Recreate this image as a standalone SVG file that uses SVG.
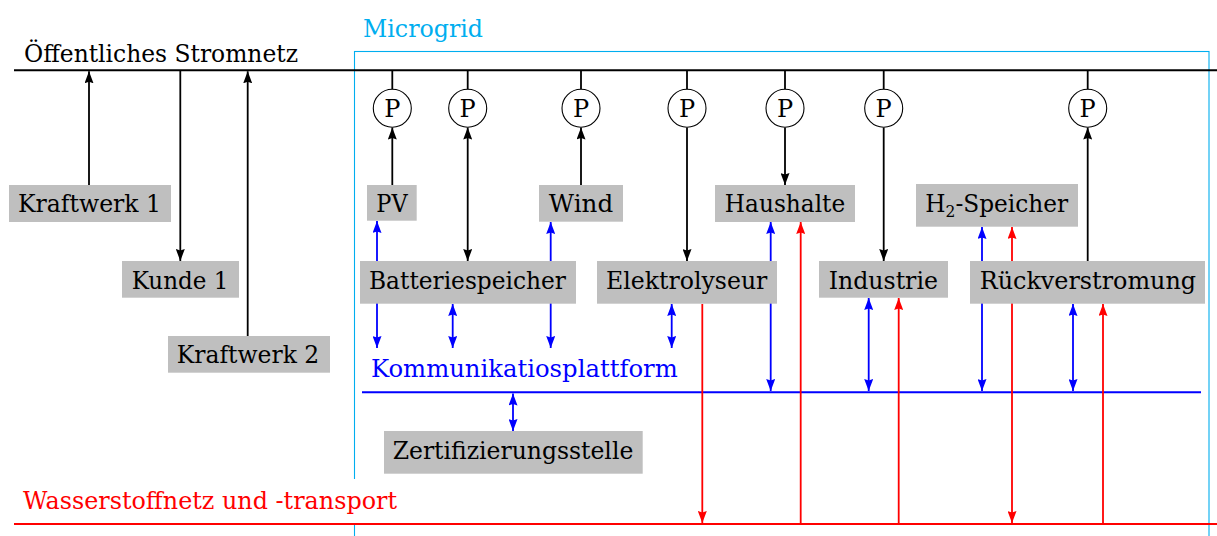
<svg xmlns="http://www.w3.org/2000/svg" width="1217" height="536" viewBox="0 0 1217 536">
<style>
text{font-family:"DejaVu Serif","Liberation Serif",serif;font-size:24px;fill:#000}
.box{fill:#bfbfbf;stroke:none}
.lbl{text-anchor:middle}
.k{stroke:#000;stroke-width:1.8;fill:none}
.b{stroke:#0000ff;stroke-width:1.8;fill:none}
.r{stroke:#ff0000;stroke-width:1.8;fill:none}
.pc{fill:#fff;stroke:#000;stroke-width:1.1}
</style>
<defs>
<marker id="ak" viewBox="0 0 12 9" refX="12" refY="4.5" markerWidth="12" markerHeight="9" markerUnits="userSpaceOnUse" orient="auto-start-reverse"><path d="M0,0 L12,4.5 L0,9 L1.5,4.5 z" fill="#000"/></marker>
<marker id="ab" viewBox="0 0 12 9" refX="12" refY="4.5" markerWidth="12" markerHeight="9" markerUnits="userSpaceOnUse" orient="auto-start-reverse"><path d="M0,0 L12,4.5 L0,9 L1.5,4.5 z" fill="#0000ff"/></marker>
<marker id="ar" viewBox="0 0 12 9" refX="12" refY="4.5" markerWidth="12" markerHeight="9" markerUnits="userSpaceOnUse" orient="auto-start-reverse"><path d="M0,0 L12,4.5 L0,9 L1.5,4.5 z" fill="#ff0000"/></marker>
</defs>
<rect width="1217" height="536" fill="#fff"/>

<g id="microgrid">
<rect x="354.5" y="51.5" width="854.5" height="500" fill="none" stroke="#00aeef" stroke-width="1.1"/>
<text x="363" y="36.7" textLength="120" lengthAdjust="spacingAndGlyphs" style="fill:#00aeef">Microgrid</text>
</g>

<g id="stromnetz">
<line x1="14" y1="70.3" x2="1217" y2="70.3" stroke="#000" stroke-width="2"/>
<text x="24" y="62" textLength="274" lengthAdjust="spacingAndGlyphs">Öffentliches Stromnetz</text>
</g>

<g id="wasserstoffnetz">
<rect x="17" y="479" width="386" height="44" fill="#fff"/>
<line x1="14" y1="524" x2="1217" y2="524" stroke="#ff0000" stroke-width="2"/>
<text x="23" y="509.3" textLength="374" lengthAdjust="spacingAndGlyphs" style="fill:#ff0000">Wasserstoffnetz und -transport</text>
</g>

<g id="kommunikationsplattform">
<line x1="362" y1="392.3" x2="1201" y2="392.3" stroke="#0000ff" stroke-width="2"/>
<text x="371" y="376.7" textLength="306.7" lengthAdjust="spacingAndGlyphs" style="fill:#0000ff">Kommunikatiosplattform</text>
</g>

<g id="connectors">
<g class="k">
<path d="M392.3,71 V89.3"/>
<path d="M467.7,71 V89.3"/>
<path d="M581,71 V89.3"/>
<path d="M687,71 V89.3"/>
<path d="M785,71 V89.3"/>
<path d="M883.7,71 V89.3"/>
<path d="M1087.7,71 V89.3"/>
<path d="M89,185 V71.3" marker-end="url(#ak)"/>
<path d="M180.3,71 V261" marker-end="url(#ak)"/>
<path d="M247.7,336 V71.3" marker-end="url(#ak)"/>
<path d="M392.3,185 V127.5" marker-end="url(#ak)"/>
<path d="M467.7,127.5 V261" marker-start="url(#ak)" marker-end="url(#ak)"/>
<path d="M581,185 V127.5" marker-end="url(#ak)"/>
<path d="M687,127.5 V261" marker-end="url(#ak)"/>
<path d="M785,127.5 V185" marker-end="url(#ak)"/>
<path d="M883.7,127.5 V261" marker-end="url(#ak)"/>
<path d="M1087.7,261 V127.5" marker-end="url(#ak)"/>
</g>
<g class="b">
<path d="M377,221 V348" marker-start="url(#ab)" marker-end="url(#ab)"/>
<path d="M452.7,304 V348" marker-start="url(#ab)" marker-end="url(#ab)"/>
<path d="M550.7,222 V348" marker-start="url(#ab)" marker-end="url(#ab)"/>
<path d="M671.7,304 V348" marker-start="url(#ab)" marker-end="url(#ab)"/>
<path d="M770.7,222 V391" marker-start="url(#ab)" marker-end="url(#ab)"/>
<path d="M868.7,298 V391" marker-start="url(#ab)" marker-end="url(#ab)"/>
<path d="M982,227 V391" marker-start="url(#ab)" marker-end="url(#ab)"/>
<path d="M1073,304 V391" marker-start="url(#ab)" marker-end="url(#ab)"/>
<path d="M513,393.5 V431" marker-start="url(#ab)" marker-end="url(#ab)"/>
</g>
<g class="r">
<path d="M702.3,304 V523" marker-end="url(#ar)"/>
<path d="M800.7,524 V222" marker-end="url(#ar)"/>
<path d="M898.7,524 V298" marker-end="url(#ar)"/>
<path d="M1012,227 V523" marker-start="url(#ar)" marker-end="url(#ar)"/>
<path d="M1103,524 V304" marker-end="url(#ar)"/>
</g>
</g>

<g id="p-pv"><circle class="pc" cx="392.3" cy="108.3" r="19"/><text class="lbl" x="392.3" y="117">P</text></g>
<g id="p-batterie"><circle class="pc" cx="467.7" cy="108.3" r="19"/><text class="lbl" x="467.7" y="117">P</text></g>
<g id="p-wind"><circle class="pc" cx="581" cy="108.3" r="19"/><text class="lbl" x="581" y="117">P</text></g>
<g id="p-elektrolyseur"><circle class="pc" cx="687" cy="108.3" r="19"/><text class="lbl" x="687" y="117">P</text></g>
<g id="p-haushalte"><circle class="pc" cx="785" cy="108.3" r="19"/><text class="lbl" x="785" y="117">P</text></g>
<g id="p-industrie"><circle class="pc" cx="883.7" cy="108.3" r="19"/><text class="lbl" x="883.7" y="117">P</text></g>
<g id="p-rueck"><circle class="pc" cx="1087.7" cy="108.3" r="19"/><text class="lbl" x="1087.7" y="117">P</text></g>

<g id="kraftwerk1"><rect class="box" x="9" y="185" width="162" height="37"/><text class="lbl" x="89.5" y="212" textLength="143" lengthAdjust="spacingAndGlyphs">Kraftwerk 1</text></g>
<g id="kunde1"><rect class="box" x="122" y="261" width="117" height="36.7"/><text class="lbl" x="180" y="289.3" textLength="96.6" lengthAdjust="spacingAndGlyphs">Kunde 1</text></g>
<g id="kraftwerk2"><rect class="box" x="168" y="336" width="162" height="36.7"/><text class="lbl" x="248" y="363.3" textLength="142.6" lengthAdjust="spacingAndGlyphs">Kraftwerk 2</text></g>
<g id="pv"><rect class="box" x="367" y="185" width="49.7" height="35.7"/><text class="lbl" x="392" y="212" textLength="31.3" lengthAdjust="spacingAndGlyphs">PV</text></g>
<g id="wind"><rect class="box" x="539" y="185" width="84" height="36.7"/><text class="lbl" x="581" y="212" textLength="64.3" lengthAdjust="spacingAndGlyphs">Wind</text></g>
<g id="haushalte"><rect class="box" x="715" y="185" width="140" height="37"/><text class="lbl" x="785" y="212" textLength="120.3" lengthAdjust="spacingAndGlyphs">Haushalte</text></g>
<g id="h2speicher"><rect class="box" x="916" y="184" width="162" height="42.7"/><text class="lbl" x="996.7" y="212.3" textLength="142.7" lengthAdjust="spacingAndGlyphs">H<tspan font-size="16" dy="5">2</tspan><tspan dy="-5">-Speicher</tspan></text></g>
<g id="batteriespeicher"><rect class="box" x="360" y="261" width="216" height="42.7"/><text class="lbl" x="467.5" y="289.3" textLength="197" lengthAdjust="spacingAndGlyphs">Batteriespeicher</text></g>
<g id="elektrolyseur"><rect class="box" x="597" y="261" width="180" height="42.7"/><text class="lbl" x="686.7" y="289.3" textLength="161.3" lengthAdjust="spacingAndGlyphs">Elektrolyseur</text></g>
<g id="industrie"><rect class="box" x="819" y="261" width="129" height="36.7"/><text class="lbl" x="883.3" y="289.3" textLength="109.3" lengthAdjust="spacingAndGlyphs">Industrie</text></g>
<g id="rueckverstromung"><rect class="box" x="970" y="261" width="235" height="42.7"/><text class="lbl" x="1087.9" y="289.3" textLength="216.3" lengthAdjust="spacingAndGlyphs">Rückverstromung</text></g>
<g id="zertifizierungsstelle"><rect class="box" x="384" y="431" width="258.7" height="42.7"/><text class="lbl" x="513" y="459.3" textLength="240.6" lengthAdjust="spacingAndGlyphs">Zertifizierungsstelle</text></g>
</svg>
